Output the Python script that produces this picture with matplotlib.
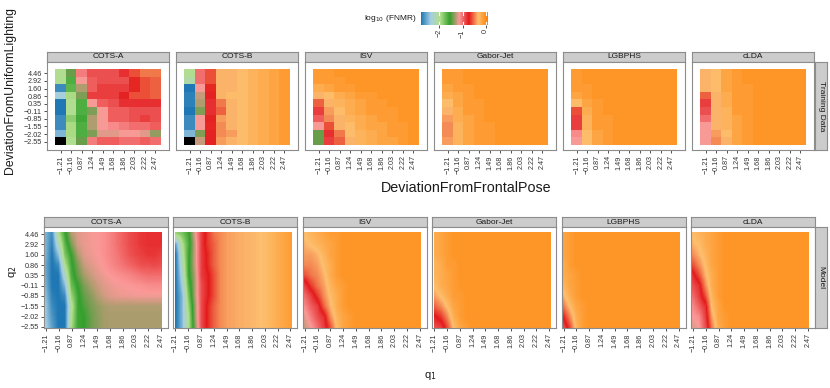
import numpy as np
import matplotlib
matplotlib.use('Agg')
import matplotlib.pyplot as plt
from matplotlib.colors import LinearSegmentedColormap, Normalize
from matplotlib.patches import Rectangle

plt.rcParams['font.family'] = ['Liberation Sans', 'DejaVu Sans']

nan = np.nan
models = ['COTS-A', 'COTS-B', 'ISV', 'Gabor-Jet', 'LGBPHS', 'cLDA']
q1_labels = ['-1.21', '-0.16', '0.87', '1.24', '1.49', '1.68', '1.86', '2.03', '2.22', '2.47']
q2_labels = ['-2.55', '-2.02', '-1.55', '-0.85', '-0.11', '0.35', '0.86', '1.60', '2.92', '4.46']
cbar_ticks = [-2, -1, 0]
palette = ['#1f78b4', '#a6cee3', '#b2df8a', '#33a02c', '#fb9a99', '#e31a1c', '#fdbf6f', '#ff7f00']
vmin, vmax = -2.8, 0.1

# ---- training data: log10(FNMR), rows from q2 = 4.46 (top) to -2.55 (bottom) ----
train_cots_a = [
    [-2.0, -1.45, -1.05, -0.9, -0.9, -0.9, -0.8, -0.6, -0.5, -0.5],
    [-2.0, -1.65, -1.15, -0.95, -0.9, -0.9, -0.9, -0.7, -0.6, -0.55],
    [-2.7, -1.7, -1.3, -0.95, -0.85, -0.85, -0.85, -0.7, -0.6, -0.55],
    [-2.35, -1.95, -1.4, -0.85, -0.85, -0.85, -0.75, -0.6, -0.6, -0.55],
    [-2.8, -2.0, -1.65, -1.15, -0.95, -0.9, -0.8, -0.8, -0.8, -0.8],
    [-2.8, -2.0, -1.65, -1.4, -1.15, -0.95, -0.95, -0.9, -0.9, -0.9],
    [-2.7, -1.85, -1.6, -1.3, -1.15, -0.95, -0.95, -0.9, -0.85, -0.9],
    [-2.7, -1.95, -1.65, -1.3, -1.15, -1.1, -1.05, -1.0, -1.0, -0.95],
    [-2.5, -1.95, -1.65, -1.4, -1.2, -1.2, -1.15, -1.15, -1.2, -1.35],
    [nan, -2.0, -1.45, -1.05, -0.95, -0.95, -1.0, -1.0, -0.95, -1.0],
]
train_cots_b = [
    [-2.0, -1.0, -0.6, -0.35, -0.35, -0.3, -0.25, -0.2, -0.15, -0.1],
    [-2.1, -1.0, -0.6, -0.35, -0.35, -0.3, -0.25, -0.2, -0.15, -0.1],
    [-2.8, -1.15, -0.7, -0.35, -0.35, -0.3, -0.25, -0.2, -0.15, -0.1],
    [-2.75, -1.25, -0.75, -0.35, -0.3, -0.3, -0.25, -0.2, -0.15, -0.1],
    [-2.75, -1.3, -0.8, -0.5, -0.35, -0.3, -0.25, -0.2, -0.15, -0.1],
    [-2.8, -1.4, -0.8, -0.55, -0.35, -0.3, -0.25, -0.2, -0.15, -0.1],
    [-2.7, -1.15, -0.75, -0.4, -0.35, -0.3, -0.25, -0.2, -0.15, -0.1],
    [-2.7, -1.15, -0.7, -0.45, -0.35, -0.3, -0.25, -0.2, -0.15, -0.1],
    [-2.5, -1.4, -0.75, -0.45, -0.4, -0.3, -0.25, -0.2, -0.15, -0.1],
    [nan, -1.25, -0.75, -0.4, -0.35, -0.3, -0.25, -0.2, -0.15, -0.1],
]
train_isv = [
    [-0.1, -0.1, -0.05, -0.05, -0.05, -0.05, -0.05, -0.05, -0.05, -0.05],
    [-0.1, -0.1, -0.1, -0.05, -0.05, -0.05, -0.05, -0.05, -0.05, -0.05],
    [-0.2, -0.15, -0.1, -0.1, -0.05, -0.05, -0.05, -0.05, -0.05, -0.05],
    [-0.35, -0.3, -0.2, -0.15, -0.1, -0.1, -0.05, -0.05, -0.05, -0.05],
    [-0.55, -0.35, -0.25, -0.2, -0.15, -0.1, -0.1, -0.05, -0.05, -0.05],
    [-0.85, -0.4, -0.3, -0.2, -0.15, -0.1, -0.1, -0.1, -0.05, -0.05],
    [-0.95, -0.45, -0.35, -0.25, -0.2, -0.15, -0.1, -0.1, -0.05, -0.05],
    [-1.15, -0.6, -0.35, -0.3, -0.2, -0.15, -0.15, -0.1, -0.1, -0.05],
    [-1.45, -0.8, -0.5, -0.3, -0.25, -0.2, -0.15, -0.1, -0.1, -0.05],
    [-1.45, -0.85, -0.55, -0.35, -0.25, -0.2, -0.15, -0.15, -0.1, -0.05],
]
train_gabor = [
    [-0.1, -0.1, -0.05, -0.05, -0.05, -0.05, -0.05, -0.05, -0.05, -0.05],
    [-0.1, -0.1, -0.05, -0.05, -0.05, -0.05, -0.05, -0.05, -0.05, -0.05],
    [-0.15, -0.1, -0.1, -0.05, -0.05, -0.05, -0.05, -0.05, -0.05, -0.05],
    [-0.2, -0.15, -0.1, -0.05, -0.05, -0.05, -0.05, -0.05, -0.05, -0.05],
    [-0.3, -0.15, -0.1, -0.1, -0.05, -0.05, -0.05, -0.05, -0.05, -0.05],
    [-0.35, -0.2, -0.1, -0.1, -0.05, -0.05, -0.05, -0.05, -0.05, -0.05],
    [-0.4, -0.2, -0.15, -0.1, -0.05, -0.05, -0.05, -0.05, -0.05, -0.05],
    [-0.45, -0.25, -0.15, -0.1, -0.1, -0.05, -0.05, -0.05, -0.05, -0.05],
    [-0.45, -0.25, -0.15, -0.1, -0.1, -0.05, -0.05, -0.05, -0.05, -0.05],
    [-0.4, -0.25, -0.15, -0.1, -0.1, -0.05, -0.05, -0.05, -0.05, -0.05],
]
train_lgbphs = [
    [-0.1, -0.05, -0.05, -0.05, -0.05, -0.05, -0.05, -0.05, -0.05, -0.05],
    [-0.1, -0.05, -0.05, -0.05, -0.05, -0.05, -0.05, -0.05, -0.05, -0.05],
    [-0.1, -0.1, -0.05, -0.05, -0.05, -0.05, -0.05, -0.05, -0.05, -0.05],
    [-0.15, -0.1, -0.05, -0.05, -0.05, -0.05, -0.05, -0.05, -0.05, -0.05],
    [-0.3, -0.15, -0.1, -0.05, -0.05, -0.05, -0.05, -0.05, -0.05, -0.05],
    [-0.6, -0.2, -0.1, -0.05, -0.05, -0.05, -0.05, -0.05, -0.05, -0.05],
    [-0.85, -0.25, -0.1, -0.1, -0.05, -0.05, -0.05, -0.05, -0.05, -0.05],
    [-0.85, -0.25, -0.1, -0.1, -0.05, -0.05, -0.05, -0.05, -0.05, -0.05],
    [-1.1, -0.3, -0.15, -0.1, -0.05, -0.05, -0.05, -0.05, -0.05, -0.05],
    [-1.15, -0.3, -0.15, -0.1, -0.05, -0.05, -0.05, -0.05, -0.05, -0.05],
]
train_clda = [
    [-0.35, -0.3, -0.15, -0.1, -0.05, -0.05, -0.05, -0.05, -0.05, -0.05],
    [-0.35, -0.3, -0.15, -0.1, -0.05, -0.05, -0.05, -0.05, -0.05, -0.05],
    [-0.35, -0.3, -0.15, -0.1, -0.1, -0.05, -0.05, -0.05, -0.05, -0.05],
    [-0.55, -0.35, -0.2, -0.1, -0.1, -0.05, -0.05, -0.05, -0.05, -0.05],
    [-0.85, -0.35, -0.2, -0.1, -0.1, -0.05, -0.05, -0.05, -0.05, -0.05],
    [-0.9, -0.35, -0.25, -0.1, -0.1, -0.05, -0.05, -0.05, -0.05, -0.05],
    [-1.0, -0.35, -0.25, -0.15, -0.1, -0.05, -0.05, -0.05, -0.05, -0.05],
    [-1.15, -0.35, -0.25, -0.15, -0.1, -0.05, -0.05, -0.05, -0.05, -0.05],
    [-1.15, -0.4, -0.3, -0.15, -0.1, -0.05, -0.05, -0.05, -0.05, -0.05],
    [-1.15, -0.45, -0.35, -0.15, -0.1, -0.05, -0.05, -0.05, -0.05, -0.05],
]

# ---- model surfaces: rows from q2 index 9 (top) to 0, columns at q1 index 0, 0.5, ..., 9 ----
model_cots_a = [
    [-2.5, -2.7, -2.0, -1.6, -1.3, -1.2, -1.18, -1.16, -1.14, -1.12, -1.08, -1.02, -0.96, -0.9, -0.86, -0.82, -0.8, -0.8, -0.8],
    [-2.5, -2.75, -2.2, -1.7, -1.4, -1.22, -1.18, -1.16, -1.14, -1.12, -1.08, -1.02, -0.96, -0.9, -0.86, -0.82, -0.8, -0.8, -0.8],
    [-2.5, -2.8, -2.45, -1.8, -1.55, -1.3, -1.2, -1.17, -1.15, -1.12, -1.08, -1.04, -0.98, -0.92, -0.88, -0.85, -0.82, -0.82, -0.85],
    [-2.55, -2.8, -2.7, -2.0, -1.6, -1.4, -1.25, -1.2, -1.17, -1.14, -1.1, -1.06, -1.02, -0.98, -0.94, -0.9, -0.9, -0.88, -0.9],
    [-2.55, -2.8, -2.8, -2.25, -1.65, -1.45, -1.32, -1.25, -1.2, -1.17, -1.14, -1.12, -1.1, -1.08, -1.05, -1.02, -1.0, -1.0, -1.0],
    [-2.5, -2.8, -2.8, -2.5, -1.75, -1.55, -1.4, -1.32, -1.25, -1.2, -1.18, -1.16, -1.15, -1.14, -1.13, -1.12, -1.1, -1.1, -1.1],
    [-2.45, -2.75, -2.8, -2.7, -1.9, -1.6, -1.45, -1.38, -1.3, -1.24, -1.2, -1.18, -1.17, -1.17, -1.16, -1.16, -1.16, -1.16, -1.16],
    [-2.4, -2.7, -2.8, -2.8, -2.05, -1.6, -1.5, -1.42, -1.36, -1.32, -1.3, -1.3, -1.3, -1.3, -1.3, -1.3, -1.3, -1.3, -1.3],
    [-2.4, -2.65, -2.8, -2.8, -2.0, -1.6, -1.55, -1.45, -1.38, -1.33, -1.31, -1.31, -1.31, -1.31, -1.31, -1.31, -1.31, -1.31, -1.31],
    [-2.35, -2.6, -2.8, -2.8, -1.95, -1.6, -1.55, -1.45, -1.38, -1.33, -1.31, -1.31, -1.31, -1.31, -1.31, -1.31, -1.31, -1.31, -1.31],
]
model_cots_b = [
    [-1.9, -1.8, -1.6, -1.2, -0.85, -0.65, -0.5, -0.45, -0.4, -0.38, -0.36, -0.35, -0.34, -0.32, -0.3, -0.25, -0.2, -0.15, -0.1],
    [-2.6, -2.0, -1.65, -1.25, -0.85, -0.65, -0.55, -0.45, -0.4, -0.38, -0.36, -0.35, -0.34, -0.32, -0.3, -0.25, -0.2, -0.15, -0.1],
    [-2.8, -2.1, -1.6, -1.25, -0.85, -0.7, -0.55, -0.45, -0.4, -0.38, -0.36, -0.35, -0.34, -0.32, -0.3, -0.25, -0.2, -0.15, -0.1],
    [-2.8, -2.2, -1.6, -1.25, -0.85, -0.7, -0.55, -0.45, -0.4, -0.38, -0.36, -0.35, -0.34, -0.32, -0.3, -0.25, -0.2, -0.15, -0.1],
    [-2.8, -2.3, -1.6, -1.3, -0.85, -0.75, -0.6, -0.45, -0.4, -0.38, -0.36, -0.35, -0.34, -0.32, -0.3, -0.25, -0.2, -0.15, -0.1],
    [-2.8, -2.4, -1.7, -1.3, -0.9, -0.75, -0.6, -0.45, -0.4, -0.38, -0.36, -0.35, -0.34, -0.32, -0.3, -0.25, -0.2, -0.15, -0.1],
    [-2.8, -2.5, -1.8, -1.3, -0.9, -0.75, -0.6, -0.45, -0.4, -0.38, -0.36, -0.35, -0.34, -0.32, -0.3, -0.25, -0.2, -0.15, -0.1],
    [-2.8, -2.5, -1.9, -1.35, -0.9, -0.7, -0.55, -0.45, -0.4, -0.38, -0.36, -0.35, -0.34, -0.32, -0.3, -0.25, -0.2, -0.15, -0.1],
    [-2.8, -2.5, -2.0, -1.35, -0.9, -0.7, -0.55, -0.45, -0.4, -0.38, -0.36, -0.35, -0.34, -0.32, -0.3, -0.25, -0.2, -0.15, -0.1],
    [-2.8, -2.5, -2.0, -1.4, -0.9, -0.7, -0.55, -0.45, -0.4, -0.38, -0.36, -0.35, -0.34, -0.32, -0.3, -0.25, -0.2, -0.15, -0.1],
]
model_isv = [
    [-0.3, -0.25, -0.2, -0.15, -0.1, -0.1, -0.05, -0.05, -0.05, -0.05, -0.05, -0.05, -0.05, -0.05, -0.05, -0.05, -0.05, -0.05, -0.05],
    [-0.35, -0.3, -0.25, -0.2, -0.15, -0.1, -0.05, -0.05, -0.05, -0.05, -0.05, -0.05, -0.05, -0.05, -0.05, -0.05, -0.05, -0.05, -0.05],
    [-0.4, -0.4, -0.35, -0.25, -0.15, -0.1, -0.05, -0.05, -0.05, -0.05, -0.05, -0.05, -0.05, -0.05, -0.05, -0.05, -0.05, -0.05, -0.05],
    [-0.45, -0.45, -0.4, -0.3, -0.2, -0.1, -0.05, -0.05, -0.05, -0.05, -0.05, -0.05, -0.05, -0.05, -0.05, -0.05, -0.05, -0.05, -0.05],
    [-0.6, -0.5, -0.45, -0.35, -0.2, -0.1, -0.05, -0.05, -0.05, -0.05, -0.05, -0.05, -0.05, -0.05, -0.05, -0.05, -0.05, -0.05, -0.05],
    [-0.85, -0.65, -0.5, -0.4, -0.25, -0.15, -0.1, -0.05, -0.05, -0.05, -0.05, -0.05, -0.05, -0.05, -0.05, -0.05, -0.05, -0.05, -0.05],
    [-1.0, -0.85, -0.65, -0.45, -0.3, -0.2, -0.1, -0.05, -0.05, -0.05, -0.05, -0.05, -0.05, -0.05, -0.05, -0.05, -0.05, -0.05, -0.05],
    [-1.1, -0.95, -0.85, -0.55, -0.35, -0.2, -0.1, -0.05, -0.05, -0.05, -0.05, -0.05, -0.05, -0.05, -0.05, -0.05, -0.05, -0.05, -0.05],
    [-1.2, -1.05, -0.9, -0.8, -0.45, -0.25, -0.15, -0.1, -0.05, -0.05, -0.05, -0.05, -0.05, -0.05, -0.05, -0.05, -0.05, -0.05, -0.05],
    [-1.25, -1.15, -1.0, -0.85, -0.6, -0.3, -0.15, -0.1, -0.05, -0.05, -0.05, -0.05, -0.05, -0.05, -0.05, -0.05, -0.05, -0.05, -0.05],
]
model_gabor = [
    [-0.2, -0.15, -0.1, -0.05, -0.05, -0.05, -0.05, -0.05, -0.05, -0.05, -0.05, -0.05, -0.05, -0.05, -0.05, -0.05, -0.05, -0.05, -0.05],
    [-0.2, -0.15, -0.1, -0.05, -0.05, -0.05, -0.05, -0.05, -0.05, -0.05, -0.05, -0.05, -0.05, -0.05, -0.05, -0.05, -0.05, -0.05, -0.05],
    [-0.2, -0.15, -0.1, -0.05, -0.05, -0.05, -0.05, -0.05, -0.05, -0.05, -0.05, -0.05, -0.05, -0.05, -0.05, -0.05, -0.05, -0.05, -0.05],
    [-0.25, -0.2, -0.1, -0.1, -0.05, -0.05, -0.05, -0.05, -0.05, -0.05, -0.05, -0.05, -0.05, -0.05, -0.05, -0.05, -0.05, -0.05, -0.05],
    [-0.25, -0.2, -0.15, -0.1, -0.05, -0.05, -0.05, -0.05, -0.05, -0.05, -0.05, -0.05, -0.05, -0.05, -0.05, -0.05, -0.05, -0.05, -0.05],
    [-0.3, -0.2, -0.15, -0.1, -0.05, -0.05, -0.05, -0.05, -0.05, -0.05, -0.05, -0.05, -0.05, -0.05, -0.05, -0.05, -0.05, -0.05, -0.05],
    [-0.4, -0.3, -0.2, -0.1, -0.1, -0.05, -0.05, -0.05, -0.05, -0.05, -0.05, -0.05, -0.05, -0.05, -0.05, -0.05, -0.05, -0.05, -0.05],
    [-0.55, -0.45, -0.3, -0.15, -0.1, -0.05, -0.05, -0.05, -0.05, -0.05, -0.05, -0.05, -0.05, -0.05, -0.05, -0.05, -0.05, -0.05, -0.05],
    [-0.75, -0.65, -0.45, -0.2, -0.1, -0.05, -0.05, -0.05, -0.05, -0.05, -0.05, -0.05, -0.05, -0.05, -0.05, -0.05, -0.05, -0.05, -0.05],
    [-0.9, -0.85, -0.6, -0.3, -0.15, -0.1, -0.05, -0.05, -0.05, -0.05, -0.05, -0.05, -0.05, -0.05, -0.05, -0.05, -0.05, -0.05, -0.05],
]
model_lgbphs = [
    [-0.15, -0.1, -0.05, -0.05, -0.05, -0.05, -0.05, -0.05, -0.05, -0.05, -0.05, -0.05, -0.05, -0.05, -0.05, -0.05, -0.05, -0.05, -0.05],
    [-0.15, -0.1, -0.05, -0.05, -0.05, -0.05, -0.05, -0.05, -0.05, -0.05, -0.05, -0.05, -0.05, -0.05, -0.05, -0.05, -0.05, -0.05, -0.05],
    [-0.15, -0.1, -0.05, -0.05, -0.05, -0.05, -0.05, -0.05, -0.05, -0.05, -0.05, -0.05, -0.05, -0.05, -0.05, -0.05, -0.05, -0.05, -0.05],
    [-0.2, -0.1, -0.05, -0.05, -0.05, -0.05, -0.05, -0.05, -0.05, -0.05, -0.05, -0.05, -0.05, -0.05, -0.05, -0.05, -0.05, -0.05, -0.05],
    [-0.2, -0.15, -0.1, -0.05, -0.05, -0.05, -0.05, -0.05, -0.05, -0.05, -0.05, -0.05, -0.05, -0.05, -0.05, -0.05, -0.05, -0.05, -0.05],
    [-0.25, -0.15, -0.1, -0.05, -0.05, -0.05, -0.05, -0.05, -0.05, -0.05, -0.05, -0.05, -0.05, -0.05, -0.05, -0.05, -0.05, -0.05, -0.05],
    [-0.35, -0.2, -0.1, -0.05, -0.05, -0.05, -0.05, -0.05, -0.05, -0.05, -0.05, -0.05, -0.05, -0.05, -0.05, -0.05, -0.05, -0.05, -0.05],
    [-0.5, -0.3, -0.15, -0.1, -0.05, -0.05, -0.05, -0.05, -0.05, -0.05, -0.05, -0.05, -0.05, -0.05, -0.05, -0.05, -0.05, -0.05, -0.05],
    [-0.7, -0.45, -0.2, -0.1, -0.05, -0.05, -0.05, -0.05, -0.05, -0.05, -0.05, -0.05, -0.05, -0.05, -0.05, -0.05, -0.05, -0.05, -0.05],
    [-0.9, -0.6, -0.25, -0.1, -0.05, -0.05, -0.05, -0.05, -0.05, -0.05, -0.05, -0.05, -0.05, -0.05, -0.05, -0.05, -0.05, -0.05, -0.05],
]
model_clda = [
    [-0.3, -0.25, -0.2, -0.15, -0.1, -0.05, -0.05, -0.05, -0.05, -0.05, -0.05, -0.05, -0.05, -0.05, -0.05, -0.05, -0.05, -0.05, -0.05],
    [-0.35, -0.3, -0.2, -0.15, -0.1, -0.05, -0.05, -0.05, -0.05, -0.05, -0.05, -0.05, -0.05, -0.05, -0.05, -0.05, -0.05, -0.05, -0.05],
    [-0.45, -0.35, -0.25, -0.15, -0.1, -0.05, -0.05, -0.05, -0.05, -0.05, -0.05, -0.05, -0.05, -0.05, -0.05, -0.05, -0.05, -0.05, -0.05],
    [-0.6, -0.45, -0.3, -0.15, -0.1, -0.05, -0.05, -0.05, -0.05, -0.05, -0.05, -0.05, -0.05, -0.05, -0.05, -0.05, -0.05, -0.05, -0.05],
    [-0.8, -0.6, -0.35, -0.2, -0.1, -0.05, -0.05, -0.05, -0.05, -0.05, -0.05, -0.05, -0.05, -0.05, -0.05, -0.05, -0.05, -0.05, -0.05],
    [-0.9, -0.8, -0.45, -0.2, -0.1, -0.05, -0.05, -0.05, -0.05, -0.05, -0.05, -0.05, -0.05, -0.05, -0.05, -0.05, -0.05, -0.05, -0.05],
    [-1.0, -0.85, -0.6, -0.25, -0.1, -0.05, -0.05, -0.05, -0.05, -0.05, -0.05, -0.05, -0.05, -0.05, -0.05, -0.05, -0.05, -0.05, -0.05],
    [-1.1, -0.95, -0.8, -0.3, -0.15, -0.05, -0.05, -0.05, -0.05, -0.05, -0.05, -0.05, -0.05, -0.05, -0.05, -0.05, -0.05, -0.05, -0.05],
    [-1.15, -1.1, -0.85, -0.4, -0.15, -0.1, -0.05, -0.05, -0.05, -0.05, -0.05, -0.05, -0.05, -0.05, -0.05, -0.05, -0.05, -0.05, -0.05],
    [-1.2, -1.15, -0.9, -0.5, -0.2, -0.1, -0.05, -0.05, -0.05, -0.05, -0.05, -0.05, -0.05, -0.05, -0.05, -0.05, -0.05, -0.05, -0.05],
]

train_data = [train_cots_a, train_cots_b, train_isv, train_gabor, train_lgbphs, train_clda]
model_data = [model_cots_a, model_cots_b, model_isv, model_gabor, model_lgbphs, model_clda]

# ------------------------------------------------------------------
W, H = 830, 388
fig = plt.figure(figsize=(W / 100, H / 100), dpi=100)
fig.patch.set_facecolor('white')

cmap = LinearSegmentedColormap.from_list('paired8', palette)
cmap.set_bad('black')
norm = Normalize(vmin=vmin, vmax=vmax)

BORDER = '#8c8c8c'
STRIP = '#cccccc'
TXT = '#1a1a1a'
TICKC = '#333333'
TICKFS = 5.2


def minus(s):
    return s.replace('-', '\u2212')


def px_axes(x0, y0, x1, y1):
    return fig.add_axes([x0 / W, 1 - y1 / H, (x1 - x0) / W, (y1 - y0) / H])


def strip(x0, y0, x1, y1, text, rot=0):
    a = px_axes(x0, y0, x1, y1)
    a.set_xticks([]); a.set_yticks([])
    a.set_facecolor(STRIP)
    for s in a.spines.values():
        s.set_color(BORDER); s.set_linewidth(0.8)
    a.text(0.5, 0.5, text, ha='center', va='center', rotation=rot,
           fontsize=6, color=TXT, transform=a.transAxes)


def style_panel(a, show_y):
    for s in a.spines.values():
        s.set_color(BORDER); s.set_linewidth(0.8)
    a.set_xticks(range(10))
    a.set_xticklabels([minus(t) for t in q1_labels], rotation=90, fontsize=TICKFS, color=TICKC)
    if show_y:
        a.set_yticks(range(10))
        a.set_yticklabels([minus(t) for t in q2_labels], fontsize=TICKFS, color=TICKC)
    else:
        a.set_yticks([])
    a.tick_params(length=2.5, width=0.6, color=TICKC, pad=1.2)


# ---- top row: training data ----
for i, (name, grid) in enumerate(zip(models, train_data)):
    x0 = 47 + 129 * i
    x1 = x0 + 122
    strip(x0, 52, x1, 62, name)
    a = px_axes(x0, 62, x1, 150)
    arr = np.ma.masked_invalid(np.array(grid, dtype=float))
    a.imshow(arr, cmap=cmap, norm=norm, origin='upper', extent=(-0.5, 9.5, -0.5, 9.5),
             aspect='auto', interpolation='nearest')
    a.set_xlim(-1.3, 10.3)
    a.set_ylim(-1.1, 10.5)
    style_panel(a, i == 0)
strip(815, 62, 827, 150, 'Training Data', rot=-90)

# ---- bottom row: model ----
for i, (name, grid) in enumerate(zip(models, model_data)):
    x0 = 44 + 129.4 * i
    x1 = x0 + 124
    strip(x0, 217, x1, 227, name)
    a = px_axes(x0, 227, x1, 328)
    arr = np.array(grid, dtype=float)
    im = a.imshow(arr, cmap=cmap, norm=norm, origin='upper', extent=(-0.25, 9.25, -0.5, 9.5),
                  aspect='auto', interpolation='bilinear')
    clip = Rectangle((-0.05, -0.1), 9.13, 9.27, transform=a.transData)
    im.set_clip_path(clip)
    a.set_xlim(-0.16, 9.55)
    a.set_ylim(-0.1, 9.68)
    style_panel(a, i == 0)
strip(815, 227, 827, 328, 'Model', rot=-90)

# ---- colour bar legend ----
cb = px_axes(421, 12, 488, 25)
grad = np.linspace(vmin, vmax, 256)[None, :]
cb.imshow(grad, cmap=cmap, norm=norm, extent=(vmin, vmax, 0, 1), aspect='auto')
for t in cbar_ticks:
    cb.plot([t, t], [0, 0.22], color='white', lw=0.8)
    cb.plot([t, t], [0.78, 1], color='white', lw=0.8)
cb.set_xlim(vmin, vmax); cb.set_ylim(0, 1)
cb.set_yticks([])
cb.set_xticks(cbar_ticks)
cb.set_xticklabels([minus(str(t)) for t in cbar_ticks], rotation=90, fontsize=TICKFS, color=TICKC)
cb.tick_params(length=2, width=0.6, color=TICKC, pad=1)
for s in cb.spines.values():
    s.set_visible(False)
fig.text(417 / W, 1 - 19 / H, 'log$_{10}$ (FNMR)', ha='right', va='center', fontsize=6.0, color=TXT)

# ---- axis titles ----
fig.text(466 / W, 1 - 188 / H, 'DeviationFromFrontalPose', ha='center', va='center', fontsize=10.3, color=TXT)
fig.text(10 / W, 1 - 91 / H, 'DeviationFromUniformLighting', ha='center', va='center', rotation=90, fontsize=8.8, color=TXT)
fig.text(430 / W, 1 - 376 / H, 'q$_1$', ha='center', va='center', fontsize=8, color=TXT)
fig.text(13 / W, 1 - 272 / H, 'q$_2$', ha='center', va='center', rotation=90, fontsize=8, color=TXT)

fig.savefig('out.png', dpi=100, facecolor='white')
